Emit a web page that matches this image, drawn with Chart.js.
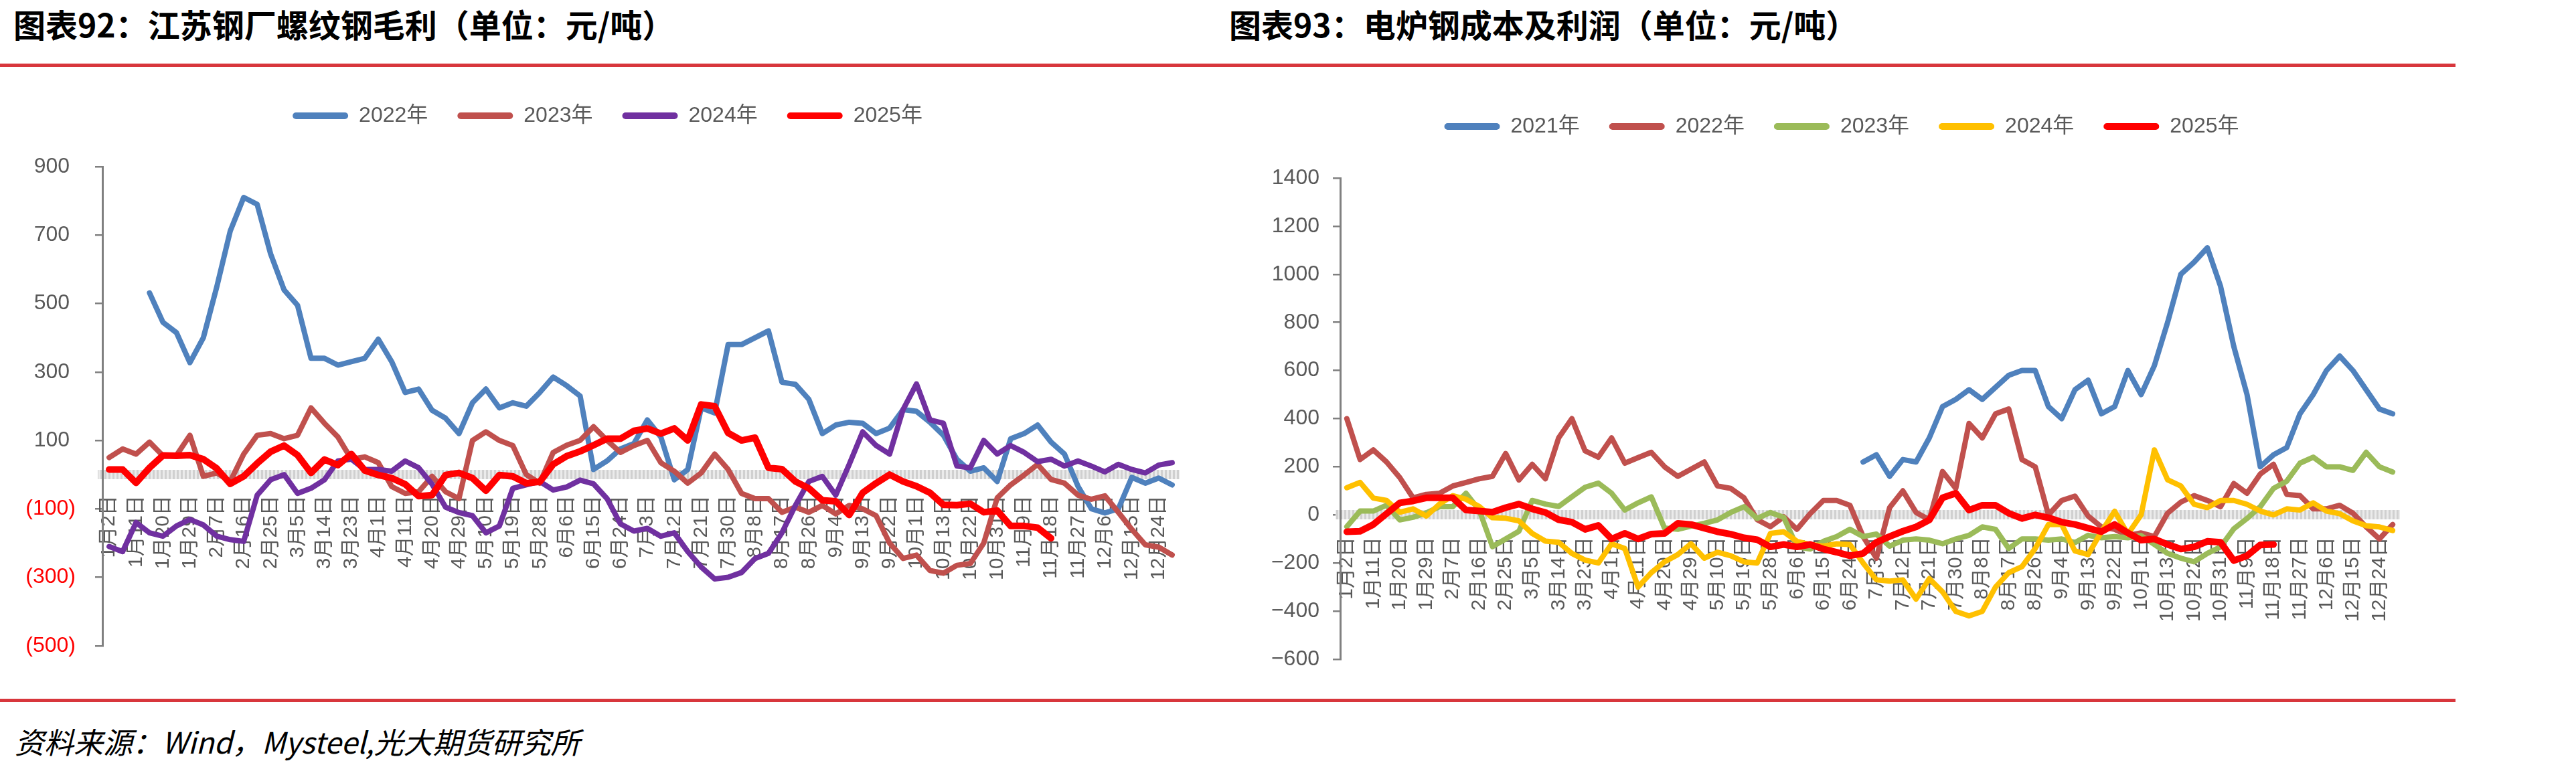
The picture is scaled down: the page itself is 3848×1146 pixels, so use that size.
<!DOCTYPE html>
<html>
<head>
<meta charset="utf-8">
<script src="https://cdn.jsdelivr.net/npm/chart.js@4.4.1/dist/chart.umd.min.js"></script>
<style>
html, body { margin: 0; padding: 0; background: #fff; }
body { width: 3848px; height: 1146px; position: relative; overflow: hidden; font-family: 'Noto Sans CJK SC', sans-serif; }
.title { position: absolute; top: 6px; font-size: 48px; font-weight: 700; color: #000; white-space: nowrap; line-height: 58px; }
.rule { position: absolute; left: 0; width: 3668px; height: 5px; background: #d8363c; }
.box { position: absolute; }
#src { position: absolute; left: 22px; top: 1080px; font-size: 44px; font-style: italic; white-space: nowrap; line-height: 54px; color: #000; }
</style>
</head>
<body>
<div class="title" style="left:20px">图表92：江苏钢厂螺纹钢毛利（单位：元/吨）</div>
<div class="title" style="left:1836px">图表93：电炉钢成本及利润（单位：元/吨）</div>
<div class="rule" style="top:95px"></div>
<div class="box" style="left:0;top:113px"><canvas id="c1" width="1800" height="900"></canvas></div>
<div class="box" style="left:1840px;top:129px"><canvas id="c2" width="2008" height="900"></canvas></div>
<div class="rule" style="top:1044px"></div>
<div id="src">资料来源：Wind，Mysteel,光大期货研究所</div>
<script>
'use strict';
// tick labels shown on the x axis (every other category)
const tickLabels = ['1月2日','1月11日','1月20日','1月29日','2月7日','2月16日','2月25日','3月5日','3月14日','3月23日',
  '4月1日','4月11日','4月20日','4月29日','5月10日','5月19日','5月28日','6月6日','6月15日','6月24日',
  '7月3日','7月12日','7月21日','7月30日','8月8日','8月17日','8月26日','9月4日','9月13日','9月22日',
  '10月1日','10月13日','10月22日','10月31日','11月9日','11月18日','11月27日','12月6日','12月15日','12月24日'];

// 图表92 江苏钢厂螺纹钢毛利
const gm2022 = [null,null,null,531,445,415,327,400,549,712, 810,790,645,540,495,340,340,320,330,340,
  396,330,240,250,188,165,120,210,250,195, 210,200,240,285,260,230,15,40,75,91,
  160,110,-15,15,195,180,380,380,400,420, 270,264,220,120,145,153,150,120,136,190,
  185,153,115,45,10,20,-20,105,120,145, 95,60,-34,-100,-112,-100,-8,-25,-10,-30];
const gm2023 = [50,75,60,95,55,56,115,-5,5,-20, 60,115,120,105,115,195,150,110,45,52,
  35,-35,-55,-50,-5,-50,-70,100,125,100, 85,0,-25,65,86,100,140,100,65,85,
  100,35,10,-25,5,60,15,-55,-70,-70, -110,-95,-110,-90,-115,-90,-100,-120,-200,-245,
  -235,-280,-288,-265,-260,-200,-68,-30,-1,30, -14,-25,-60,-72,-62,-110,-160,-205,-212,-235];
const gm2024 = [-210,-225,-140,-170,-180,-150,-131,-147,-180,-190, -195,-60,-15,0,-55,-40,-15,40,45,15,
  15,10,40,20,-28,-95,-111,-120,-170,-150, -40,-30,-20,-45,-36,-16,-27,-70,-144,-165,
  -157,-180,-170,-225,-270,-305,-300,-286,-245,-230, -170,-90,-20,-5,-60,30,125,85,60,190,
  265,160,150,25,20,100,60,85,65,38, 45,25,40,25,8,30,15,5,28,35];
const gm2025 = [15,15,-24,20,56,55,57,45,18,-27, -5,33,67,85,57,5,44,28,60,12,
  -1,-10,-28,-63,-60,-1,5,-10,-47,-1, -5,-25,-21,30,54,68,86,105,105,128,
  135,120,135,100,205,200,122,100,108,20, 16,-20,-40,-75,-78,-118,-53,-25,0,-20,
  -34,-53,-88,-89,-85,-110,-105,-150,-150,-155, -186,null,null,null,null,null,null,null,null,null];

// 图表93 电炉钢成本及利润
const eaf2021 = [null,null,null,null,null,null,null,null,null,null, null,null,null,null,null,null,null,null,null,null,
  null,null,null,null,null,null,null,null,null,null, null,null,null,null,null,null,null,null,null,220,
  250,160,230,220,320,450,480,520,480,530, 580,600,600,450,400,520,560,420,450,600,
  500,620,800,1000,1050,1110,950,700,500,200, 250,280,420,500,600,660,600,520,440,420];
const eaf2022 = [400,230,270,220,155,71,85,90,120,135, 150,160,255,145,210,150,320,400,266,240,
  320,215,238,260,200,160,190,220,120,110, 71,-20,-49,-8,-60,5,60,60,40,-90,
  -180,30,100,10,-20,180,110,380,320,420, 440,230,200,0,60,78,-5,-50,-60,-86,
  -75,-90,7,53,80,60,34,130,90,170, 210,85,80,25,25,40,7,-50,-100,-40];
const eaf2023 = [-49,16,16,40,-21,-10,8,34,34,90, 20,-132,-100,-68,60,45,35,75,115,132,
  90,20,50,75,-55,-60,-47,-35,-21,10, 34,-15,10,-10,-132,-142,-110,-90,-60,-90,
  -80,-130,-105,-100,-105,-120,-100,-85,-50,-60, -140,-100,-100,-105,-100,-115,-85,-95,-90,-95,
  -86,-123,-160,-180,-195,-160,-133,-58,-15,34, 110,140,215,240,200,200,185,260,200,178];
const eaf2024 = [113,135,70,60,11,25,-5,45,80,65, 35,-12,-14,-25,-77,-109,-114,-160,-188,-200,
  -120,-140,-300,-240,-195,-165,-120,-180,-155,-170, -195,-200,-77,-70,-110,-123,-130,-120,-123,-200,
  -270,-275,-270,-350,-265,-320,-401,-420,-401,-300, -240,-215,-140,-40,-40,-150,-165,-70,15,-80,
  0,270,146,120,44,30,60,60,44,16, 0,25,20,50,16,5,-25,-45,-50,-65];
const eaf2025 = [-70,-68,-40,5,50,58,71,71,71,20, 16,11,30,45,25,10,-20,-30,-60,-44,
  -100,-77,-100,-80,-77,-35,-40,-55,-70,-80, -95,-103,-133,-123,-133,-123,-142,-155,-170,-160,
  -114,-90,-68,-50,-21,71,90,20,40,40, 7,-15,0,-12,-30,-40,-55,-70,-40,-75,
  -105,-100,-123,-142,-133,-110,-114,-190,-170,-125, -123,null,null,null,null,null,null,null,null,null];

const categories = [];
tickLabels.forEach(function (t) { categories.push(t, ''); });

const FONT = "'Liberation Sans','Noto Sans CJK SC'";
const GREY = '#595959';

function hatch(canvas) {
  const c = document.createElement('canvas');
  c.width = 6; c.height = 16;
  const g = c.getContext('2d');
  g.fillStyle = '#ebebeb'; g.fillRect(0, 0, 6, 16);
  g.fillStyle = '#d0d0d0'; g.fillRect(0, 0, 3, 16);
  return canvas.getContext('2d').createPattern(c, 'repeat');
}

// extra room under the legend, and a sideways nudge of the legend row
function legendGap(extra, shift) {
  return {
    id: 'legendGap',
    beforeInit(chart) {
      const fit = chart.legend.fit;
      chart.legend.fit = function () { fit.call(this); this.height += extra; };
    },
    afterLayout(chart) {
      chart.legend.left += shift;
      chart.legend.right += shift;
    }
  };
}

function line(label, data, color, order, width) {
  return { label: label, data: data, borderColor: color, backgroundColor: color, borderWidth: width || 8,
    pointRadius: 0, tension: 0, fill: false, order: order, borderJoinStyle: 'round', borderCapStyle: 'round' };
}

function makeChart(id, cfg) {
  const canvas = document.getElementById(id);
  return new Chart(canvas, {
    type: 'line',
    data: { labels: categories, datasets: cfg.datasets },
    options: {
      responsive: false,
      animation: false,
      layout: { padding: cfg.padding },
      plugins: {
        tooltip: { enabled: false },
        legend: {
          position: 'top',
          labels: {
            boxWidth: 83, boxHeight: 10, padding: 44, color: GREY,
            useBorderRadius: true, borderRadius: 5,
            font: { family: FONT, size: 32 },
            sort: function (a, b) { return a.datasetIndex - b.datasetIndex; },
            generateLabels: function (chart) {
              return Chart.defaults.plugins.legend.labels.generateLabels(chart).map(function (l) {
                l.lineWidth = 0; return l;
              });
            }
          }
        }
      },
      scales: {
        x: {
          type: 'category',
          position: { y: 0 },
          offset: true,
          grid: { display: false, drawTicks: false },
          border: { display: true, color: hatch(canvas), width: 14 },
          ticks: { autoSkip: false, minRotation: 90, maxRotation: 90, padding: cfg.xPad, color: GREY,
            font: { family: FONT, size: 30 } },
          afterFit: function (s) { s.paddingLeft = 0; s.paddingRight = 0; }
        },
        y: {
          min: cfg.min, max: cfg.max,
          grid: { display: true, drawOnChartArea: false, drawTicks: true, tickLength: 11, color: '#808080', lineWidth: 2.5 },
          border: { display: true, color: '#808080', width: 3 },
          ticks: {
            stepSize: 200, padding: cfg.yPad, font: { family: FONT, size: 32 },
            color: cfg.tickColor,
            callback: cfg.tickText
          },
          afterFit: function (s) { s.width = cfg.yWidth; }
        }
      }
    },
    plugins: [legendGap(cfg.gap, cfg.shift)]
  });
}

makeChart('c1', {
  datasets: [
    line('2022年', gm2022, '#4f81bd', 4),
    line('2023年', gm2023, '#c0504d', 3),
    line('2024年', gm2024, '#7030a0', 2),
    line('2025年', gm2025, '#ff0000', 1, 10)
  ],
  padding: { left: 0, right: 39, top: 0, bottom: 43 },
  gap: 50, shift: 27, yWidth: 153, yPad: 29, xPad: 31, min: -500, max: 900,
  tickColor: function (c) { return c.tick && c.tick.value < 0 ? '#ff0000' : GREY; },
  tickText: function (v) { return v < 0 ? '(' + Math.abs(v) + ')' : v + ' '; }
});

makeChart('c2', {
  datasets: [
    line('2021年', eaf2021, '#4f81bd', 5),
    line('2022年', eaf2022, '#c0504d', 4),
    line('2023年', eaf2023, '#9bbb59', 3),
    line('2024年', eaf2024, '#ffc000', 2),
    line('2025年', eaf2025, '#ff0000', 1, 10)
  ],
  padding: { left: 0, right: 264, top: 0, bottom: 44 },
  gap: 51, shift: 39, yWidth: 162, yPad: 20, xPad: 33, min: -600, max: 1400,
  tickColor: function () { return GREY; },
  tickText: function (v) { return v < 0 ? '\u2212' + Math.abs(v) : String(v); }
});
</script>
</body>
</html>
